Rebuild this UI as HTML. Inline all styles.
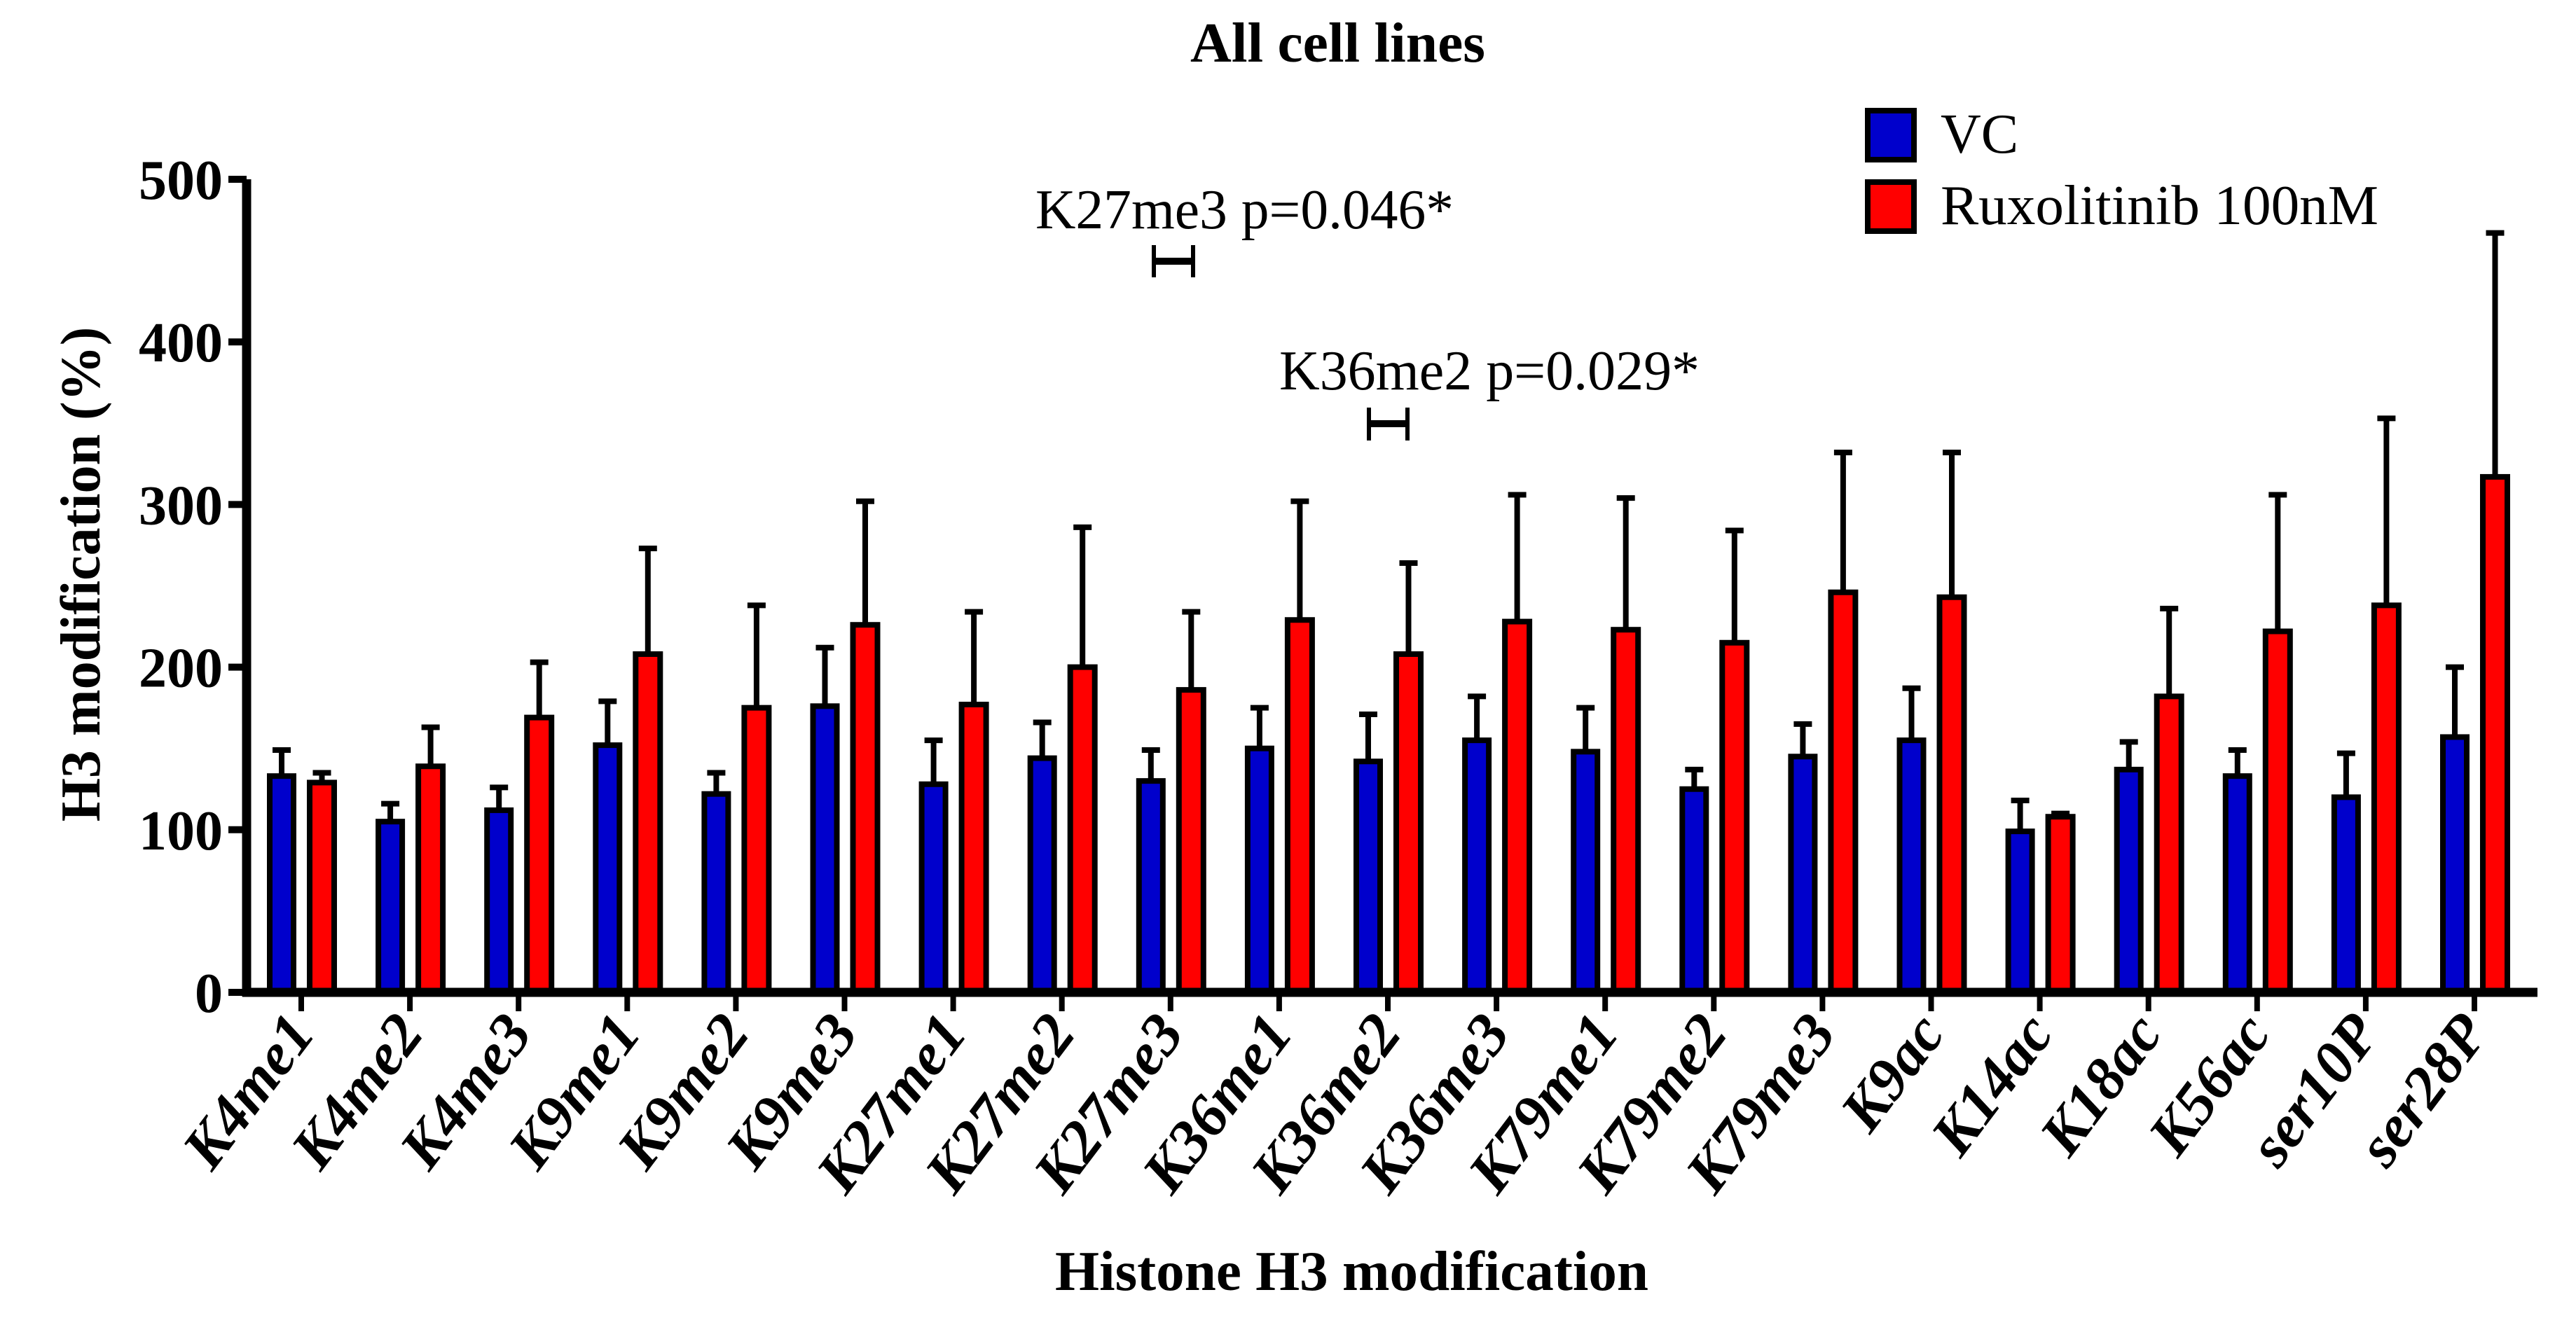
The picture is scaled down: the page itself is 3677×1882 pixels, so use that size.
<!DOCTYPE html>
<html><head><meta charset="utf-8"><style>
html,body{margin:0;padding:0;background:#fff;}
svg{display:block;font-family:"Liberation Serif",serif;}
</style></head><body>
<svg id="chart" width="3677" height="1882" viewBox="0 0 3677 1882" xmlns="http://www.w3.org/2000/svg">
<rect width="3677" height="1882" fill="#fff"/>
<text x="1699" y="88" font-weight="bold" font-size="80" textLength="421" lengthAdjust="spacingAndGlyphs">All cell lines</text>
<text transform="translate(142,820) rotate(-90)" text-anchor="middle" font-weight="bold" font-size="80">H3 modification (%)</text>
<text x="1506" y="1842" font-weight="bold" font-size="80" textLength="847" lengthAdjust="spacingAndGlyphs">Histone H3 modification</text>
<g id="yticks"></g>
<g id="bars"></g>
<g id="xlabels"></g>
<line x1="352" y1="256" x2="352" y2="1423" stroke="#000" stroke-width="13"/>
<line x1="346" y1="1417" x2="3622" y2="1417" stroke="#000" stroke-width="13"/>
<g>
<rect x="2666" y="158" width="66" height="70" fill="#0000cc" stroke="#000" stroke-width="8"/>
<text x="2770" y="218" font-size="80">VC</text>
<rect x="2666" y="260" width="66" height="70" fill="#ff0000" stroke="#000" stroke-width="8"/>
<text x="2770" y="320" font-size="80" textLength="625" lengthAdjust="spacingAndGlyphs">Ruxolitinib 100nM</text>
</g>
<g>
<text x="1478" y="326" font-size="80" textLength="597" lengthAdjust="spacingAndGlyphs">K27me3 p=0.046*</text>
<path d="M1647 350V396M1703 350V396" stroke="#000" stroke-width="6" fill="none"/>
<line x1="1647" y1="373" x2="1703" y2="373" stroke="#000" stroke-width="10"/>
</g>
<g>
<text x="1826" y="556" font-size="80" textLength="600" lengthAdjust="spacingAndGlyphs">K36me2 p=0.029*</text>
<path d="M1954 582V629M2009 582V629" stroke="#000" stroke-width="6" fill="none"/>
<line x1="1954" y1="605" x2="2009" y2="605" stroke="#000" stroke-width="10"/>
</g>
</svg>
<script>
const categories = ["K4me1","K4me2","K4me3","K9me1","K9me2","K9me3","K27me1","K27me2","K27me3","K36me1","K36me2","K36me3","K79me1","K79me2","K79me3","K9ac","K14ac","K18ac","K56ac","ser10P","ser28P"];
const vcValues = [133,105,112,152,122,176,128,144,130,150,142,155,148,125,145,155,99,137,133,120,157];
const vcErrTop = [149,116,126,179,135,212,155,166,149,175,171,182,175,137,165,187,118,154,149,147,200];
const ruxValues = [129,139,169,208,175,226,177,200,186,229,208,228,223,215,246,243,108,182,222,238,317];
const ruxErrTop = [135,163,203,273,238,302,234,286,234,302,264,306,304,284,332,332,110,236,306,353,467];
const yTicks = [0,100,200,300,400,500];

const NS = "http://www.w3.org/2000/svg";
const y = v => 1417 - v * 2.322;
const xc = i => 430 + i * 155.1;
function mk(tag, attrs, parent) {
  const e = document.createElementNS(NS, tag);
  for (const k in attrs) e.setAttribute(k, attrs[k]);
  parent.appendChild(e);
  return e;
}
const yt = document.getElementById('yticks');
yTicks.forEach(t => {
  const l = mk('line', {x1: 326, x2: 352, y1: y(t), y2: y(t), stroke: '#000', 'stroke-width': 10}, yt);
  
  
  const tx = mk('text', {x: 318, y: y(t) + 28, 'text-anchor': 'end', 'font-weight': 'bold', 'font-size': 80}, yt);
  tx.textContent = t;
  
  
});
const bg = document.getElementById('bars');
const xl = document.getElementById('xlabels');
function bar(x, w, v, e, fill, name) {
  const ln = mk('line', {x1: x + w / 2, x2: x + w / 2, y1: y(v), y2: y(e), stroke: '#000', 'stroke-width': 8}, bg);
  
  
  const cap = mk('line', {x1: x + w / 2 - 13, x2: x + w / 2 + 13, y1: y(e), y2: y(e), stroke: '#000', 'stroke-width': 8}, bg);
  
  
  const r = mk('rect', {x: x, y: y(v), width: w, height: 1417 - y(v), fill: fill, stroke: '#000', 'stroke-width': 8}, bg);
  
  
}
categories.forEach((c, i) => {
  const cx = xc(i);
  bar(cx - 45, 34, vcValues[i], vcErrTop[i], '#0000cc', 'bar-vc-' + c.toLowerCase());
  bar(cx + 12, 35, ruxValues[i], ruxErrTop[i], '#ff0000', 'bar-rux-' + c.toLowerCase());
  const tk = mk('line', {x1: cx, x2: cx, y1: 1417, y2: 1444, stroke: '#000', 'stroke-width': 8}, xl);
  
  
  const tx = mk('text', {transform: 'translate(' + (cx + 22) + ',1476) rotate(-53)', 'text-anchor': 'end', 'font-weight': 'bold', 'font-style': 'italic', 'font-size': 86}, xl);
  tx.textContent = c;
  
  
});
</script>
</body></html>
